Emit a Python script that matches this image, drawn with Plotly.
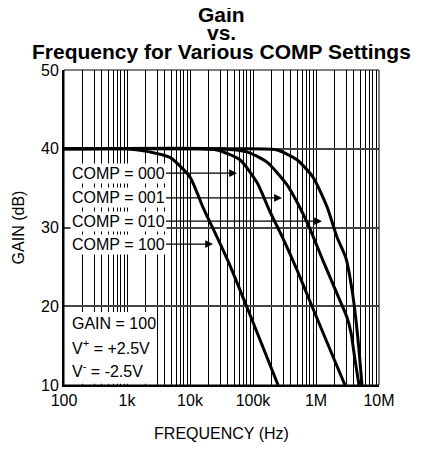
import math
import plotly.graph_objects as go

# ---- data ----
freq_comp100 = [100, 1000, 2300, 4800, 10000, 16000, 26800, 43000, 80000, 250000]
gain_comp100 = [40, 40, 39.6, 38.9, 36.4, 32.6, 28.8, 25.2, 19.9, 10]

freq_comp000 = [100, 10000, 26800, 62000, 116000, 186000, 300000, 500000, 804000, 1500000, 2880000]
gain_comp000 = [40, 40, 39.85, 38.6, 35.7, 32.0, 28.6, 24.6, 20.6, 15.4, 10]

freq_comp001 = [100, 30000, 80000, 167000, 347000, 557000, 804000, 1290000, 2000000, 3100000, 3600000, 4160000, 4820000]
gain_comp001 = [40, 40, 39.6, 38.3, 35.4, 32.5, 29.8, 25.8, 22.2, 18.6, 16.6, 13.2, 10]

freq_comp010 = [100, 60000, 240000, 499000, 895000, 1500000, 2150000, 2990000, 3730000, 4310000, 4820000, 5370000]
gain_comp010 = [40, 40, 39.85, 38.6, 36.4, 32.6, 28.8, 26.1, 22.1, 18.25, 14.4, 10]

label_texts = ["COMP = 000", "COMP = 001", "COMP = 010", "COMP = 100"]
arrow_tip_freq = [55700, 288000, 1245000, 23200]
arrow_tip_gain = [36.9, 33.75, 30.8, 27.9]
label_freq = 720

x_tick_vals = [100, 1000, 10000, 100000, 1000000, 10000000]
x_tick_text = ["100", "1k", "10k", "100k", "1M", "10M"]
y_tick_vals = [10, 20, 30, 40, 50]

FONT = "Liberation Sans, Arial, sans-serif"

fig = go.Figure()
for fx, gy, nm in [(freq_comp100, gain_comp100, "COMP = 100"),
                   (freq_comp000, gain_comp000, "COMP = 000"),
                   (freq_comp001, gain_comp001, "COMP = 001"),
                   (freq_comp010, gain_comp010, "COMP = 010")]:
    fig.add_trace(go.Scatter(x=fx, y=gy, mode="lines", name=nm,
                             line=dict(color="black", width=3, shape="spline", smoothing=0.6),
                             showlegend=False, cliponaxis=True))

minor_vals = [m * 10 ** d for d in range(2, 7) for m in range(2, 10)]

# page body has an 8px margin, so the figure is drawn 8px smaller
fig.update_layout(
    width=418, height=443,
    margin=dict(l=56, r=47, t=62, b=66, autoexpand=False),
    paper_bgcolor="white", plot_bgcolor="white",
    font=dict(family=FONT, size=16, color="black"),
    xaxis=dict(type="log", range=[2, 7], tickvals=x_tick_vals, ticktext=x_tick_text,
               showgrid=True, gridcolor="black", gridwidth=1, ticks="",
               showline=True, linecolor="black", linewidth=2, zeroline=False,
               ticklabelstandoff=0, automargin=False,
               minor=dict(tickvals=minor_vals, showgrid=True, gridcolor="black", gridwidth=1, ticks=""),
               title=dict(text="FREQUENCY (Hz)", font=dict(size=16), standoff=20)),
    yaxis=dict(range=[10, 50], tickvals=y_tick_vals,
               showgrid=True, gridcolor="#444444", gridwidth=1.5, ticks="",
               showline=True, linecolor="black", linewidth=2, zeroline=False,
               ticklabelstandoff=0, automargin=False,
               title=dict(text="GAIN (dB)", font=dict(size=16), standoff=12)),
)

# top/right frame
fig.add_shape(type="rect", xref="paper", yref="paper", x0=0, x1=1, y0=0, y1=1,
              line=dict(color="black", width=1), layer="above")
# white box behind the conditions text (covers the grid there)
fig.add_shape(type="rect", xref="paper", yref="paper", x0=0.004, x1=0.292, y0=0.004, y1=0.232,
              line=dict(width=0), fillcolor="white", layer="above")

# title lines
for txt, py in [("Gain", 15), ("vs.", 33), ("Frequency for Various COMP Settings", 51)]:
    fig.add_annotation(text="<b>%s</b>" % txt, xref="paper", yref="paper",
                       x=0.5, y=(385 - py) / 315, xanchor="center", yanchor="middle",
                       showarrow=False, font=dict(size=21, family=FONT))

# condition text
for txt, py in [("GAIN = 100", 323), ("V<sup>+</sup> = +2.5V", 347), ("V<sup>-</sup> = -2.5V", 370)]:
    fig.add_annotation(text=txt, xref="paper", yref="paper",
                       x=(70 - 64) / 315, y=(385 - py) / 315, xanchor="left", yanchor="middle",
                       showarrow=False, font=dict(size=16, family=FONT))

# COMP labels with arrows
for txt, tf, tg in zip(label_texts, arrow_tip_freq, arrow_tip_gain):
    fig.add_annotation(text=txt, x=math.log10(tf), y=tg, xref="x", yref="y",
                       ax=math.log10(label_freq), ay=tg, axref="x", ayref="y",
                       showarrow=True, arrowhead=2, arrowsize=1.2, arrowwidth=1.3,
                       arrowcolor="black", bgcolor="white", borderpad=1,
                       font=dict(size=16, family=FONT))

fig.write_html("out.html")
